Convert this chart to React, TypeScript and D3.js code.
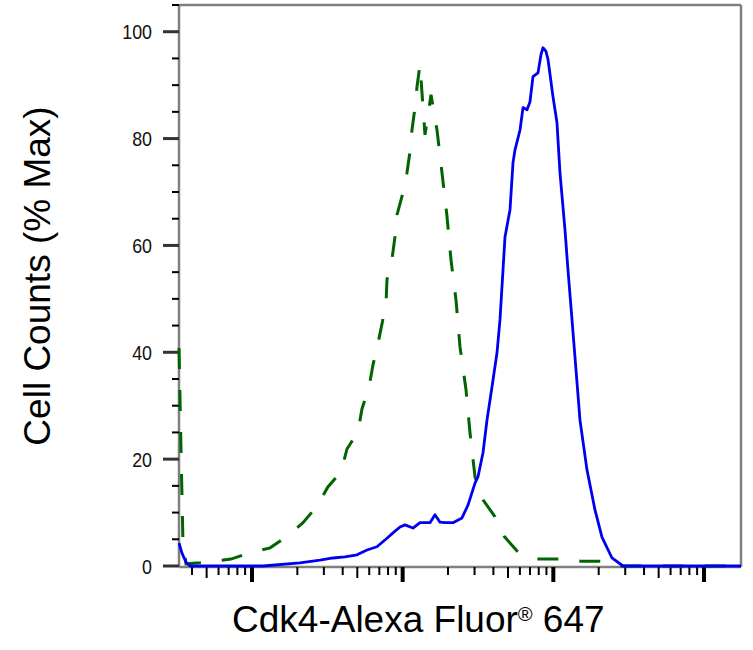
import React, { useRef, useEffect } from "react";
import * as d3 from "d3";

// Cdk4-Alexa Fluor 647 histogram (isotype control vs. stained)
// intensity values on the log channel axis, counts as % of max

const controlIntensity = [
  3.28, 3.38, 3.48, 3.65, 4.52, 5.68, 7.25, 9.55, 13.2, 16.8, 21.8, 27.0, 31.9,
  39.0, 42.7, 50.5, 53.7, 59.8, 63.5, 68.6, 73.4, 77.7, 78.7, 85.0, 88.9, 91.7,
  100.5, 106.8, 111.8, 115.3, 120.7, 124.5, 130.3, 140.7, 154.2, 169.0, 182.4,
  197.0, 209.3, 225.9, 240.2, 263.3, 279.9, 302.1, 341.4, 410.1, 470.5, 582.9,
  778.8, 1090, 1526, 2136, 2770, 17600,
];
const controlCounts = [
  40.8, 21.7, 4.9, 0.4, 0.6, 0.9, 1.3, 2.4, 3.4, 5.4, 8.1, 11.2, 14.8, 17.6,
  21.9, 25.1, 29.4, 33.5, 37.6, 41.7, 45.7, 49.7, 53.6, 57.5, 61.6, 65.7, 69.9,
  73.6, 77.5, 81.6, 85.8, 89.7, 93.8, 80.7, 88.2, 81.6, 73.6, 65.4, 57.3, 49.8,
  41.0, 33.0, 24.9, 16.7, 12.4, 9.2, 5.6, 2.6, 1.3, 1.3, 0.9, 0.9, 0, 0,
];

const cdk4Intensity = [
  3.28, 3.43, 3.65, 3.88, 11.8, 20.8, 28.3, 34.5, 41.4, 49.8, 58.0, 67.5, 78.7,
  86.3, 96.0, 103.6, 117.1, 130.3, 151.8, 163.9, 176.9, 190.9, 215.8, 247.6,
  271.4, 302.1, 316.2, 341.4, 362.8, 391.6, 422.8, 442.6, 463.4, 477.8, 515.8,
  540.0, 556.7, 601.0, 629.2, 668.8, 700.2, 732.8, 791, 828, 854, 894, 922, 995,
  1057, 1107, 1195, 1251, 1330, 1414, 1503, 1672, 1890, 2103, 2451, 2900, 17600,
];
const cdk4Counts = [
  4.3, 2.4, 0.7, 0, 0, 0.6, 1.1, 1.5, 1.7, 2.1, 3.0, 3.6, 5.2, 6.2, 7.3, 7.7,
  7.1, 8.1, 8.1, 9.6, 8.2, 8.1, 8.1, 9.0, 11.4, 15.5, 16.7, 21.2, 27.3, 33.5,
  39.9, 46.1, 55.4, 61.6, 66.7, 75.5, 77.9, 81.6, 85.8, 85.4, 86.9, 91.6, 92.3,
  95.7, 97.0, 96.3, 94.8, 87.8, 83.0, 73.6, 62.9, 55.4, 46.1, 36.7, 27.3, 18.0,
  10.5, 5.4, 1.5, 0, 0,
];

const yMajorTicks = [0, 20, 40, 60, 80, 100];
const yMinorTicks = [5, 10, 15, 25, 30, 35, 45, 50, 55, 65, 70, 75, 85, 90, 95, 105];
const xDecades = [10, 100, 1000, 10000];

const App: React.FC = () => {
  const svgRef = useRef<SVGSVGElement | null>(null);

  const width = 753;
  const height = 650;
  const plot = { left: 179, right: 741, top: 5, bottom: 566 };

  const drawChart = () => {
    const svg = d3.select(svgRef.current);
    svg.selectAll("*").remove();

    const x = d3
      .scaleLog()
      .domain([3.278, 17600])
      .range([plot.left, plot.right]);

    const y = d3
      .scaleLinear()
      .domain([0, 105])
      .range([plot.bottom, plot.top]);

    // frame
    const frame = svg.append("g").attr("stroke", "#808080").attr("stroke-width", 2.5);
    frame.append("line").attr("x1", plot.left).attr("x2", plot.right).attr("y1", y(105)).attr("y2", y(105));
    frame.append("line").attr("x1", plot.right).attr("x2", plot.right).attr("y1", y(105)).attr("y2", plot.bottom + 1);
    frame.append("line").attr("x1", plot.left).attr("x2", plot.right).attr("y1", plot.bottom + 1).attr("y2", plot.bottom + 1);
    frame.append("line").attr("x1", plot.left).attr("x2", plot.left).attr("y1", y(105) - 1).attr("y2", plot.bottom + 1);

    // y ticks
    svg
      .append("g")
      .selectAll("line")
      .data(yMajorTicks)
      .enter()
      .append("line")
      .attr("x1", plot.left - 16)
      .attr("x2", plot.left)
      .attr("y1", (d) => y(d))
      .attr("y2", (d) => y(d))
      .attr("stroke", "#333")
      .attr("stroke-width", 3);

    svg
      .append("g")
      .selectAll("line")
      .data(yMinorTicks)
      .enter()
      .append("line")
      .attr("x1", plot.left - 7)
      .attr("x2", plot.left)
      .attr("y1", (d) => y(d))
      .attr("y2", (d) => y(d))
      .attr("stroke", "#000")
      .attr("stroke-width", 2);

    svg
      .append("g")
      .selectAll("text")
      .data(yMajorTicks)
      .enter()
      .append("text")
      .attr("transform", (d) => `translate(152, ${y(d) + 7.5}) scale(0.85, 1)`)
      .attr("text-anchor", "end")
      .style("font-family", "'Liberation Sans', Arial, sans-serif")
      .style("font-size", "21px")
      .attr("fill", "#111")
      .text((d) => d);

    // x ticks (log, unlabeled)
    const [d0, d1] = x.domain();
    const minor: number[] = [];
    for (let p = 1; p <= 10000; p *= 10) {
      for (let m = 2; m <= 9; m++) {
        const v = m * p;
        if (v > d0 && v < d1) minor.push(v);
      }
    }
    svg
      .append("g")
      .selectAll("line")
      .data(minor)
      .enter()
      .append("line")
      .attr("x1", (d) => x(d))
      .attr("x2", (d) => x(d))
      .attr("y1", plot.bottom + 1)
      .attr("y2", (d) => (String(d)[0] === "5" ? plot.bottom + 12 : plot.bottom + 9))
      .attr("stroke", "#000")
      .attr("stroke-width", 2);

    svg
      .append("g")
      .selectAll("line")
      .data(xDecades)
      .enter()
      .append("line")
      .attr("x1", (d) => x(d))
      .attr("x2", (d) => x(d))
      .attr("y1", plot.bottom + 1)
      .attr("y2", plot.bottom + 16)
      .attr("stroke", "#000")
      .attr("stroke-width", 4);

    // histograms
    const line = d3
      .line<[number, number]>()
      .x((d) => x(d[0]))
      .y((d) => y(d[1]));

    const control = controlIntensity.map((v, i) => [v, controlCounts[i]] as [number, number]);
    const cdk4 = cdk4Intensity.map((v, i) => [v, cdk4Counts[i]] as [number, number]);

    svg
      .append("path")
      .attr("d", line(control))
      .attr("fill", "none")
      .attr("stroke", "#006400")
      .attr("stroke-width", 3)
      .attr("stroke-dasharray", "21 21");

    svg
      .append("path")
      .attr("d", line(cdk4))
      .attr("fill", "none")
      .attr("stroke", "#0000f0")
      .attr("stroke-width", 2.8)
      .attr("stroke-linejoin", "round");

    // axis titles
    svg
      .append("text")
      .attr("transform", `translate(50, 276) rotate(-90)`)
      .attr("text-anchor", "middle")
      .style("font-family", "'Liberation Sans', Arial, sans-serif")
      .style("font-size", "37px")
      .attr("fill", "#000")
      .text("Cell Counts (% Max)");

    const xt = svg
      .append("text")
      .attr("x", 232)
      .attr("y", 632)
      .style("font-family", "'Liberation Sans', Arial, sans-serif")
      .style("font-size", "37px")
      .attr("fill", "#000");
    xt.append("tspan").text("Cdk4-Alexa Fluor");
    xt.append("tspan").attr("dy", -11).style("font-size", "20px").text("®");
    xt.append("tspan").attr("dy", 11).text(" 647");
  };

  useEffect(() => {
    drawChart();
  }, []);

  return (
    <svg
      ref={svgRef}
      width={width}
      height={height}
      style={{ position: "absolute", left: 0, top: 0, background: "#fff" }}
    ></svg>
  );
};

export default App;
